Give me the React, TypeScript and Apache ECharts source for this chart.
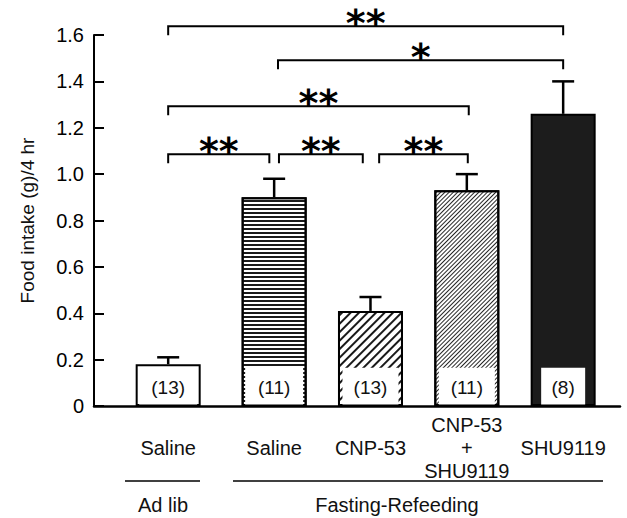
import React, { useEffect, useRef } from "react";
import * as echarts from "echarts";

// ---- data ----
const categories = ["Saline", "Saline", "CNP-53", "CNP-53\n+\nSHU9119", "SHU9119"];
const xPositions = [0.9, 2, 3, 4, 5];
const means = [0.18, 0.9, 0.41, 0.93, 1.26];
const sems = [0.03, 0.08, 0.06, 0.07, 0.14];
const nLabels = ["(13)", "(11)", "(13)", "(11)", "(8)"];
const yTickValues = [0, 0.2, 0.4, 0.6, 0.8, 1.0, 1.2, 1.4, 1.6];

const bracketStart = [0.9, 2.04, 0.9, 0.9, 2.05, 3.09];
const bracketEnd = [5, 5, 4.02, 1.95, 2.92, 4.01];
const bracketLevel = [1.638, 1.491, 1.293, 1.086, 1.086, 1.086];
const bracketLabels = ["**", "*", "**", "**", "**", "**"];

const groupNames = ["Ad lib", "Fasting-Refeeding"];

// ---- styles ----
const FONT = "Liberation Sans";
const BOX_TOP = 0.165;
const BOX_WIDTHS = [58, 58, 56, 56, 44];
const barStyles: any[] = [
  { color: "#ffffff" },
  {
    color: "#ffffff",
    decal: { symbol: "rect", symbolSize: 1, color: "#1a1a1a", dashArrayX: [10, 0], dashArrayY: [1.5, 2], rotation: 0 },
  },
  {
    color: "#ffffff",
    decal: { symbol: "rect", symbolSize: 1, color: "#1a1a1a", dashArrayX: [10, 0], dashArrayY: [1.6, 3.4], rotation: -Math.PI / 4 },
  },
  {
    color: "#ffffff",
    decal: { symbol: "rect", symbolSize: 1, color: "#262626", dashArrayX: [10, 0], dashArrayY: [0.9, 1.4], rotation: -Math.PI / 4 },
  },
  { color: "#1c1c1c" },
];

export default function App() {
  const ref = useRef<HTMLDivElement>(null);
  useEffect(() => {
    if (!ref.current) return;
    const chart = echarts.init(ref.current, undefined, { renderer: "svg" });

    const barData = xPositions.map((x, i) => ({
      value: [x, means[i]],
      itemStyle: { ...barStyles[i], borderColor: "#000", borderWidth: 2 },
    }));

    const option: any = {
      animation: false,
      backgroundColor: "#ffffff",
      grid: { left: 94, right: 7, top: 35, bottom: 112, containLabel: false },
      xAxis: {
        type: "value",
        min: 0.13,
        max: 5.59,
        axisLine: { show: true, onZero: false, lineStyle: { color: "#000", width: 2.5 } },
        axisTick: { show: false },
        splitLine: { show: false },
        axisLabel: {
          customValues: xPositions,
          formatter: (v: number) => {
            let best = 0;
            xPositions.forEach((p, i) => {
              if (Math.abs(p - v) < Math.abs(xPositions[best] - v)) best = i;
            });
            return categories[best];
          },
          verticalAlign: "middle",
          margin: 42,
          lineHeight: 23,
          fontSize: 20,
          fontFamily: FONT,
          color: "#111",
          hideOverlap: false,
        },
      },
      yAxis: {
        type: "value",
        min: 0,
        max: 1.6,
        interval: 0.2,
        name: "Food intake (g)/4 hr",
        nameLocation: "middle",
        nameGap: 57,
        nameRotate: 90,
        nameTextStyle: { fontFamily: FONT, fontSize: 19, color: "#111" },
        axisLine: { show: true, lineStyle: { color: "#000", width: 2 } },
        axisTick: { show: true, inside: true, length: 10, lineStyle: { color: "#000", width: 2 } },
        splitLine: { show: false },
        axisLabel: {
          margin: 10,
          fontSize: 20,
          fontFamily: FONT,
          color: "#000",
          formatter: (v: number) => {
            const t = yTickValues.find((y) => Math.abs(y - v) < 1e-6);
            const val = t === undefined ? v : t;
            return val === 0 ? "0" : val.toFixed(1);
          },
        },
      },
      series: [
        {
          type: "bar",
          barWidth: 65,
          data: barData,
          z: 2,
        },
        {
          type: "custom",
          z: 3,
          clip: false,
          data: xPositions.map((x, i) => [x, BOX_TOP]),
          renderItem: (params: any, api: any) => {
            const i = params.dataIndex;
            const x = api.value(0);
            const base = api.coord([x, 0]);
            const top = api.coord([x, api.value(1)]);
            const w = BOX_WIDTHS[i];
            const h = base[1] - top[1] - 1.5;
            return {
              type: "group",
              children: [
                {
                  type: "rect",
                  shape: { x: base[0] - w / 2, y: top[1], width: w, height: h },
                  style: { fill: "#ffffff" },
                },
                {
                  type: "text",
                  style: {
                    text: nLabels[i],
                    x: base[0],
                    y: top[1] + h / 2 + 1,
                    align: "center",
                    verticalAlign: "middle",
                    fontSize: 19,
                    fontFamily: FONT,
                    fill: "#111",
                  },
                },
              ],
            };
          },
        },
        {
          type: "custom",
          z: 4,
          clip: false,
          data: xPositions.map((x, i) => [x, means[i], means[i] + sems[i]]),
          renderItem: (params: any, api: any) => {
            const x = api.value(0);
            const p0 = api.coord([x, api.value(1)]);
            const p1 = api.coord([x, api.value(2)]);
            const s = { stroke: "#000", lineWidth: 2.5 };
            return {
              type: "group",
              children: [
                { type: "line", shape: { x1: p0[0], y1: p0[1], x2: p1[0], y2: p1[1] }, style: s },
                { type: "line", shape: { x1: p1[0] - 11, y1: p1[1], x2: p1[0] + 11, y2: p1[1] }, style: s },
              ],
            };
          },
        },
        {
          type: "custom",
          z: 5,
          clip: false,
          data: bracketStart.map((s, i) => [s, bracketEnd[i], bracketLevel[i]]),
          renderItem: (params: any, api: any) => {
            const i = params.dataIndex;
            const a = api.coord([api.value(0), api.value(2)]);
            const b = api.coord([api.value(1), api.value(2)]);
            return {
              type: "group",
              children: [
                {
                  type: "polyline",
                  shape: { points: [[a[0], a[1] + 9], [a[0], a[1]], [b[0], b[1]], [b[0], b[1] + 9]] },
                  style: { stroke: "#000", lineWidth: 2, fill: null },
                },
                {
                  type: "text",
                  style: {
                    text: bracketLabels[i],
                    x: (a[0] + b[0]) / 2,
                    y: a[1] - 3.5,
                    align: "center",
                    verticalAlign: "middle",
                    fontSize: 38,
                    fontWeight: "bold",
                    fontFamily: "DejaVu Sans",
                    fill: "#000",
                  },
                },
              ],
            };
          },
        },
      ],
      graphic: [
        { type: "line", shape: { x1: 125, y1: 481, x2: 200, y2: 481 }, style: { stroke: "#000", lineWidth: 1.6 } },
        { type: "line", shape: { x1: 233, y1: 481, x2: 603, y2: 481 }, style: { stroke: "#000", lineWidth: 1.6 } },
        {
          type: "text",
          x: 163,
          y: 505,
          style: { text: groupNames[0], align: "center", verticalAlign: "middle", textAlign: "center", textVerticalAlign: "middle", fontSize: 20, fontFamily: FONT, fill: "#111" },
        },
        {
          type: "text",
          x: 397,
          y: 505,
          style: { text: groupNames[1], align: "center", verticalAlign: "middle", textAlign: "center", textVerticalAlign: "middle", fontSize: 20, fontFamily: FONT, fill: "#111" },
        },
      ],
    };

    chart.setOption(option);
    return () => chart.dispose();
  }, []);

  return <div ref={ref} style={{ width: 627, height: 518, position: "absolute", left: 0, top: 0, background: "#fff" }} />;
}
